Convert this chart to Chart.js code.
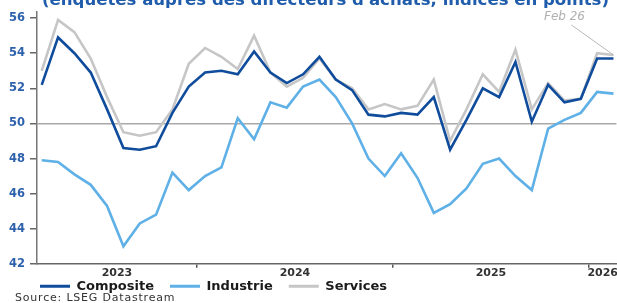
<!DOCTYPE html>
<html><head><meta charset="utf-8">
<script src="https://cdn.jsdelivr.net/npm/chart.js@4/dist/chart.umd.min.js"></script>
<style>
html,body{margin:0;padding:0;background:#fff;width:617px;height:303px;overflow:hidden;}
#wrap{position:relative;width:617px;height:303px;overflow:hidden;}
#chart{position:absolute;left:0;top:0;}
#title{position:absolute;left:42px;top:-8px;white-space:nowrap;font-family:"DejaVu Sans";font-weight:bold;color:#1f5cab;line-height:1;font-size:14px;}
#source{position:absolute;left:15px;top:292px;white-space:nowrap;font-family:"DejaVu Sans";font-size:11px;letter-spacing:0.8px;color:#333;line-height:1;}
</style></head><body>
<div id="wrap"><canvas id="chart" width="617" height="303"></canvas>
<div id="title">(enquêtes auprès des directeurs d'achats, indices en points)</div>
<div id="source">Source: LSEG Datastream</div></div>
<script>
const months = ['2023-03','2023-04','2023-05','2023-06','2023-07','2023-08','2023-09','2023-10','2023-11','2023-12',
  '2024-01','2024-02','2024-03','2024-04','2024-05','2024-06','2024-07','2024-08','2024-09','2024-10','2024-11','2024-12',
  '2025-01','2025-02','2025-03','2025-04','2025-05','2025-06','2025-07','2025-08','2025-09','2025-10','2025-11','2025-12',
  '2026-01','2026-02'];
const composite = [52.2,54.9,54.0,52.9,50.8,48.6,48.5,48.7,50.6,52.1,
  52.9,53.0,52.8,54.1,52.9,52.3,52.8,53.8,52.5,51.9,50.5,50.4,
  50.6,50.5,51.5,48.5,50.2,52.0,51.5,53.5,50.1,52.2,51.2,51.4,
  53.7,53.7];
const industrie = [47.9,47.8,47.1,46.5,45.3,43.0,44.3,44.8,47.2,46.2,
  47.0,47.5,50.3,49.1,51.2,50.9,52.1,52.5,51.5,50.0,48.0,47.0,
  48.3,46.9,44.9,45.4,46.3,47.7,48.0,47.0,46.2,49.7,50.2,50.6,
  51.8,51.7];
const services = [53.0,55.9,55.2,53.7,51.5,49.5,49.3,49.5,50.8,53.4,
  54.3,53.8,53.1,55.0,52.9,52.1,52.6,53.7,52.5,52.0,50.8,51.1,
  50.8,51.0,52.5,49.0,50.8,52.8,51.8,54.2,50.8,52.3,51.3,51.4,
  54.0,53.9];
const yTicks = [42,44,46,48,50,52,54,56];
const seriesNames = ['Composite','Industrie','Services'];
const lastLabel = 'Feb 26';

(function(){
  const t = document.getElementById('title');
  const w = t.offsetWidth;
  t.style.fontSize = (14 * 568 / w) + 'px';
})();

const xMin = -0.29, xMax = months.length - 1 + 0.18;
const years = months.map(m => m.slice(0,4));
const boundaries = [];
for (let i = 1; i < years.length; i++) if (years[i] !== years[i-1]) boundaries.push(i - 0.5);
const yearLabels = {};
[...new Set(years)].forEach(y => {
  const first = years.indexOf(y), last = years.lastIndexOf(y);
  const a = Math.max(first - 0.5, xMin), b = Math.min(last + 0.5, xMax);
  yearLabels[((a + b) / 2).toFixed(4)] = y;
});
const labelPositions = Object.keys(yearLabels).map(Number);
const allXTicks = [...boundaries, ...labelPositions].sort((a,b)=>a-b);
const isBoundary = v => boundaries.some(b => Math.abs(b - v) < 1e-6);

const toPts = arr => arr.map((v,i)=>({x:i, y:v}));
const colors = ['#104c9c','#5eb0e6','#c6c6c6'];

const annotationPlugin = {
  id:'lastLabel',
  afterDatasetsDraw(chart){
    const meta = chart.getDatasetMeta(2);
    const pt = meta.data[meta.data.length-1];
    const ctx = chart.ctx;
    ctx.save();
    ctx.strokeStyle = '#b8b8b8'; ctx.lineWidth = 1;
    ctx.beginPath(); ctx.moveTo(pt.x - 42, pt.y - 30); ctx.lineTo(pt.x, pt.y); ctx.stroke();
    ctx.font = 'italic 12px "DejaVu Sans"'; ctx.fillStyle = '#b0b0b0';
    ctx.textAlign = 'center'; ctx.textBaseline = 'middle';
    ctx.fillText(lastLabel, pt.x - 49, pt.y - 38.5);
    ctx.restore();
  }
};
const legendPlace = {
  id:'legendPlace',
  afterLayout(chart){
    const lg = chart.legend; if (!lg) return;
    lg.left = 24;
    lg.top = chart.chartArea.bottom;
    lg.bottom = chart.height;
    lg.height = lg.bottom - lg.top;
  }
};

new Chart(document.getElementById('chart'), {
  type:'line',
  data:{
    datasets:[
      {label:seriesNames[0], data:toPts(composite), borderColor:colors[0], backgroundColor:colors[0], borderWidth:2.6},
      {label:seriesNames[1], data:toPts(industrie), borderColor:colors[1], backgroundColor:colors[1], borderWidth:2.6},
      {label:seriesNames[2], data:toPts(services), borderColor:colors[2], backgroundColor:colors[2], borderWidth:2.6}
    ]
  },
  options:{
    responsive:false, animation:false, devicePixelRatio:1,
    layout:{padding:{top:12,left:0,right:0,bottom:0}},
    elements:{point:{radius:0}, line:{tension:0, borderJoinStyle:'miter'}},
    scales:{
      x:{
        type:'linear', min:xMin, max:xMax,
        afterBuildTicks(scale){ scale.ticks = allXTicks.map(v=>({value:v})); },
        ticks:{autoSkip:false, maxRotation:0, padding:-1,
          font:{family:'DejaVu Sans', weight:'bold', size:11}, color:'#333',
          callback(v){ return isBoundary(v) ? '' : (yearLabels[v.toFixed(4)] || ''); }},
        grid:{drawOnChartArea:false, tickLength:4, lineWidth:1.5,
          tickColor(ctx){ return ctx.tick && isBoundary(ctx.tick.value) ? '#555' : 'rgba(0,0,0,0)'; }},
        border:{color:'#666', width:1.5}
      },
      y:{
        min:42, max:56.35,
        afterBuildTicks(scale){ scale.ticks = yTicks.map(v=>({value:v})); },
        afterFit(scale){ scale.width = 37; },
        ticks:{padding:5, font:{family:'DejaVu Sans', weight:'bold', size:11.5}, color:'#2f62ad'},
        grid:{tickLength:7, lineWidth:1.5, tickColor:'#666',
          color(ctx){ return ctx.tick && ctx.tick.value === 50 ? '#a9a9a9' : 'rgba(0,0,0,0)'; }},
        border:{color:'#777', width:1.5}
      }
    },
    plugins:{
      legend:{position:'bottom', align:'start', maxHeight:24,
        labels:{boxWidth:30, boxHeight:3, padding:16, color:'#1a1a1a',
          font:{family:'DejaVu Sans', weight:'bold', size:13},
          generateLabels(chart){
            const items = Chart.defaults.plugins.legend.labels.generateLabels(chart);
            items.forEach(it=>{ it.lineWidth = 0; it.fillStyle = it.strokeStyle; });
            return items;
          }}},
      tooltip:{enabled:false}
    }
  },
  plugins:[annotationPlugin, legendPlace]
});
</script>
</body></html>
